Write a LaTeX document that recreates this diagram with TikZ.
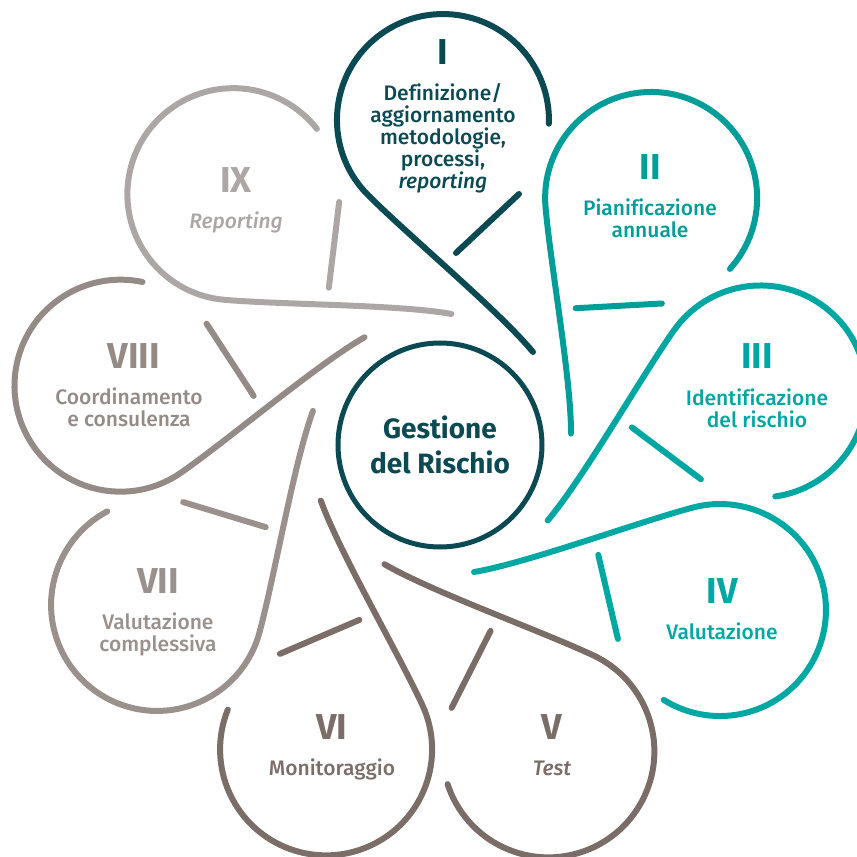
\documentclass[tikz,border=0pt]{standalone}
\usepackage{fontspec}
\setmainfont{Fira Sans}[Ligatures=NoCommon]
\newfontfamily\medfont{Fira Sans Medium}[Ligatures=NoCommon]
\usetikzlibrary{positioning}
\definecolor{deep}{HTML}{0B4A53}
\definecolor{teal1}{HTML}{009D99}
\definecolor{teal2}{HTML}{00A6A2}
\definecolor{teal3}{HTML}{00A8A4}
\definecolor{taupe1}{HTML}{7A6D67}
\definecolor{taupe2}{HTML}{7B6E68}
\definecolor{grey1}{HTML}{9A908C}
\definecolor{grey2}{HTML}{948A86}
\definecolor{pale}{HTML}{ACA7A4}
\tikzset{
  petal/.style={line width=6pt,line cap=round},
  num/.style={font=\fontsize{36}{36}\selectfont\bfseries,inner sep=0pt,anchor=base},
  desc/.style={font=\fontsize{21}{22}\selectfont\medfont,align=center,inner sep=0pt},
}

\begin{document}
\begin{tikzpicture}[x=1pt,y=1pt]
\useasboundingbox (-440,-412) rectangle (417,445);
% one petal every 40 degrees, drawn pointing up and then turned
\foreach \rot/\col in {0/deep,-40/teal1,-80/teal2,-120/teal3,-160/taupe1,-200/taupe2,-240/grey1,-280/grey2,-320/pale}{
  \begin{scope}[rotate=\rot]
    \draw[petal,\col] (93,93) .. controls (58,135) and (-30,208) .. (-72,250)
      arc[start angle=225,end angle=-2,radius=106];
    \draw[petal,\col] (79,251) -- (16,192);
  \end{scope}
}
\node[circle,draw=deep,line width=5pt,minimum size=204pt,inner sep=0pt,deep,
  font=\fontsize{28}{35}\selectfont\bfseries,align=center] (core) at (0,0) {Gestione\\del Rischio};

% base of a text block = base of its last line
\node[num,deep] (r1) at (3,380) {I};
\node[desc,deep,below=124pt of r1.base,anchor=base] (d1) {Definizione/\\aggiornamento\\metodologie,\\processi,\\\textit{reporting}};
\node[num,teal1] (r2) at (210,265) {II};
\node[desc,teal1,below=58pt of r2.base,anchor=base] (d2) {Pianificazione\\annuale};
\node[num,teal2] (r3) at (317,76) {III};
\node[desc,teal2,below=58pt of r3.base,anchor=base] (d3) {Identificazione\\del rischio};
\node[num,teal3] (r4) at (282,-158) {IV};
\node[desc,teal3,below=36pt of r4.base,anchor=base] (d4) {Valutazione};
\node[num,taupe1] (r5) at (112,-294) {V};
\node[desc,taupe1,below=36pt of r5.base,anchor=base] (d5) {\textit{Test}};
\node[num,taupe2] (r6) at (-108,-294) {VI};
\node[desc,taupe2,below=36pt of r6.base,anchor=base] (d6) {Monitoraggio};
\node[num,grey1] (r7) at (-282,-148) {VII};
\node[desc,grey1,below=58pt of r7.base,anchor=base] (d7) {Valutazione\\complessiva};
\node[num,grey2] (r8) at (-306,77) {VIII};
\node[desc,grey2,below=58pt of r8.base,anchor=base,xshift=-5pt] (d8) {Coordinamento\\e consulenza};
\node[num,pale] (r9) at (-204,252) {IX};
\node[desc,pale,below=36pt of r9.base,anchor=base] (d9) {\textit{Reporting}};
\end{tikzpicture}
\end{document}
